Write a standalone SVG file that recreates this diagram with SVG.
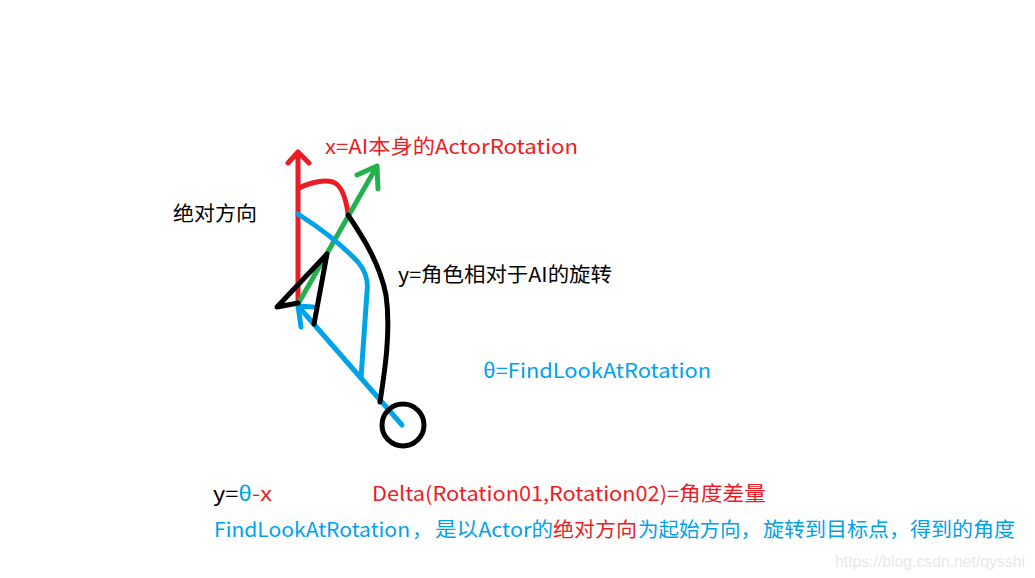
<svg xmlns="http://www.w3.org/2000/svg" width="1035" height="578" viewBox="0 0 1035 578">
<style>
.s{fill:none;stroke-width:5;stroke-linecap:round;stroke-linejoin:round}
.r{stroke:#ed1c24}.g{stroke:#22b14c}.b{stroke:#00a2e8}.k{stroke:#000}
text{font-family:"Microsoft YaHei","Noto Sans CJK SC","Noto Sans",sans-serif;font-size:20px}
.tr{fill:#ed1c24}.tb{fill:#00a2e8}.tk{fill:#000}
</style>
<rect width="1035" height="578" fill="#fff"/>
<g id="connectors">
<path class="s r" d="M298,305 L298,152 M288,163 L298,152 L309,163"/>
<path class="s r" d="M299,188 C312,182 325,180 333,182 C342,185 346,200 348,213"/>
<path class="s g" d="M298,304 L377,166 M357,175 L377,166 L378,189"/>
<path class="s b" d="M402,425 L298,306 M298,306 L313,307 M298,306 L301,327"/>
<path class="s b" d="M298,214 C320,228 342,245 358,262 C368,274 368,284 367,292 L361,378"/>
<path class="s k" d="M348,215 C365,240 380,265 386,295 C391,330 385,370 380,402"/>
<path class="s k" d="M298,303 L277,307 L327,254 L314,324"/>
<circle class="s k" cx="403" cy="425" r="21"/>
</g>
<g id="label-x"><text class="tr" x="325" y="154" textLength="253" lengthAdjust="spacingAndGlyphs">x=AI本身的ActorRotation</text></g>
<g id="label-abs"><text class="tk" x="173" y="221" textLength="84" lengthAdjust="spacingAndGlyphs">绝对方向</text></g>
<g id="label-y"><text class="tk" x="398" y="282" textLength="214" lengthAdjust="spacingAndGlyphs">y=角色相对于AI的旋转</text></g>
<g id="label-theta"><text class="tb" x="483" y="378" textLength="228" lengthAdjust="spacingAndGlyphs">θ=FindLookAtRotation</text></g>
<g id="formula"><text x="213" y="501" textLength="59" lengthAdjust="spacingAndGlyphs"><tspan class="tk">y=</tspan><tspan class="tb">θ</tspan><tspan class="tr">-x</tspan></text></g>
<g id="delta"><text class="tr" x="372" y="501" textLength="394" lengthAdjust="spacingAndGlyphs">Delta(Rotation01,Rotation02)=角度差量</text></g>
<g id="note"><text y="537"><tspan class="tb" x="214" textLength="196" lengthAdjust="spacingAndGlyphs">FindLookAtRotation</tspan><tspan class="tb" x="412">，</tspan><tspan class="tb" x="435" textLength="118" lengthAdjust="spacingAndGlyphs">是以Actor的</tspan><tspan class="tr" x="553" textLength="84" lengthAdjust="spacingAndGlyphs">绝对方向</tspan><tspan class="tb" x="638" textLength="123" lengthAdjust="spacingAndGlyphs">为起始方向，</tspan><tspan class="tb" x="763" textLength="252" lengthAdjust="spacingAndGlyphs">旋转到目标点，得到的角度</tspan></text></g>
<g id="watermark"><text x="835" y="567" style="font-family:'Liberation Sans',Arial,sans-serif;font-size:16px;fill:#e8e8e8" textLength="190" lengthAdjust="spacingAndGlyphs">https://blog.csdn.net/qysshi</text></g>
</svg>
